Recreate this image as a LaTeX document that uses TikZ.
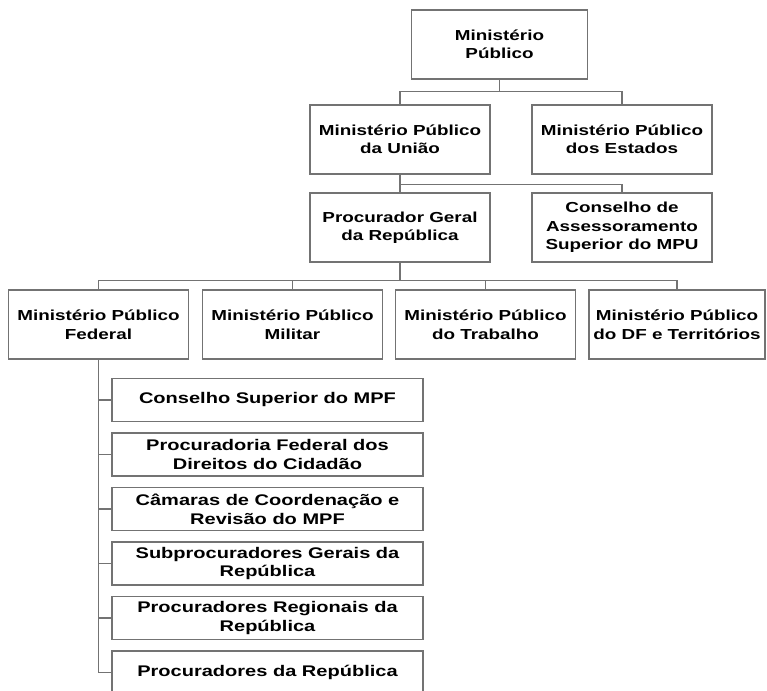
\documentclass[tikz,border=0pt]{standalone}
\usepackage{fontspec}
\setmainfont{Liberation Sans}[FakeStretch=1.3]
\usepackage{tikz}
\usetikzlibrary{positioning}

\definecolor{linegray}{gray}{0.45}

\begin{document}
\begin{tikzpicture}[x=1pt, y=1pt, node distance = 54.5pt, on grid,
		org/.style={draw=linegray, line width=1.4pt, fill=white, align=center, inner sep=0pt,
			minimum width=180pt, minimum height=69pt, font=\bfseries\fontsize{14.5}{18.5}\selectfont},
		sub/.style={org, minimum width=311pt, minimum height=43pt, font=\bfseries\fontsize{15.4}{18.7}\selectfont},
		link/.style={draw=linegray, line width=1.4pt}]
			\useasboundingbox (0,0) rectangle (767,-690);
			\clip (0,0) rectangle (767,-690);

			\node[org, minimum width=176pt] (mp) at (499.5,-44.5) {Ministério\\Público};
			\node[org, below left=95pt and 99.5pt of mp] (mpu) {Ministério Público\\da União};
			\node[org, right=222pt of mpu] (mpe) {Ministério Público\\dos Estados};
			\node[org, below=88pt of mpu] (pgr) {Procurador Geral\\da República};
			\node[org, right=222pt of pgr] (cas) {Conselho de\\Assessoramento\\Superior do MPU};
			\node[org, below left=97pt and 301.5pt of pgr] (mpf) {Ministério Público\\Federal};
			\node[org, right=194pt of mpf] (mpm) {Ministério Público\\Militar};
			\node[org, right=193pt of mpm] (mpt) {Ministério Público\\do Trabalho};
			\node[org, right=191.5pt of mpt, minimum width=176pt] (mpdf) {Ministério Público\\do DF e Territórios};
			\node[sub, below right=75.5pt and 169pt of mpf] (c1) {Conselho Superior do MPF};
			\node[sub, below=of c1] (c2) {Procuradoria Federal dos\\Direitos do Cidadão};
			\node[sub, below=of c2] (c3) {Câmaras de Coordenação e\\Revisão do MPF};
			\node[sub, below=of c3] (c4) {Subprocuradores Gerais da\\República};
			\node[sub, below=of c4] (c5) {Procuradores Regionais da\\República};
			\node[sub, below=of c5] (c6) {Procuradores da República};

			\draw[link] (mp.south) -- ++(0,-12) -| (mpu.north)
			(mp.south) -- ++(0,-12) -| (mpe.north)
			(mpu.south) -- ++(0,-10) -| (pgr.north)
			(mpu.south) -- ++(0,-10) -| (cas.north)
			(pgr.south) -- ++(0,-18) -| (mpf.north)
			(pgr.south) -- ++(0,-18) -| (mpm.north)
			(pgr.south) -- ++(0,-18) -| (mpt.north)
			(pgr.south) -- ++(0,-18) -| (mpdf.north)
			(mpf.south) |- (c1.west)
			(mpf.south) |- (c2.west)
			(mpf.south) |- (c3.west)
			(mpf.south) |- (c4.west)
			(mpf.south) |- (c5.west)
			(mpf.south) |- (c6.west);

		\end{tikzpicture}
\end{document}
